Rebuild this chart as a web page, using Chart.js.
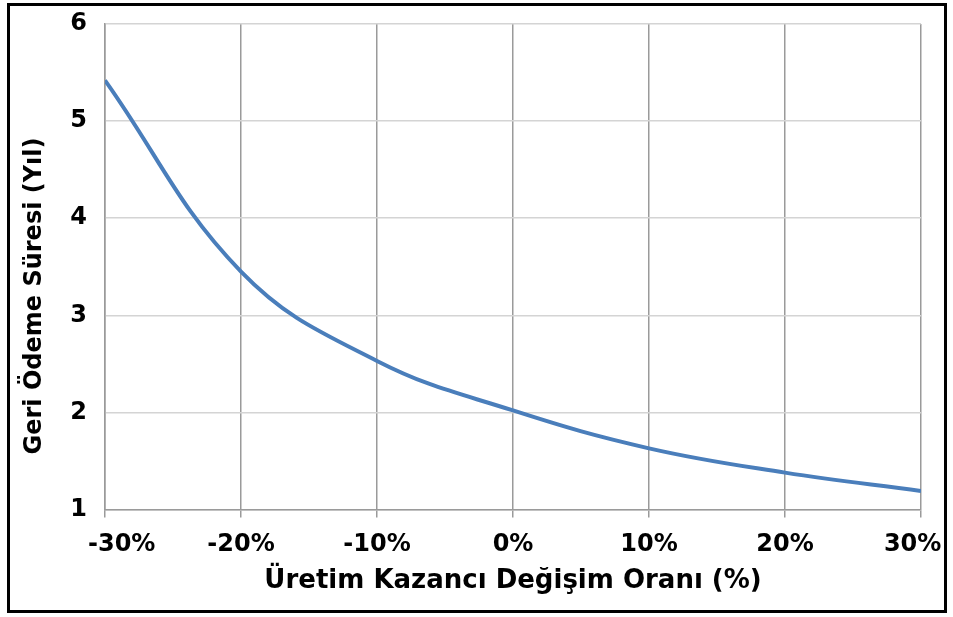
<!DOCTYPE html>
<html lang="tr">
<head>
  <meta charset="UTF-8">
  <title>Geri Ödeme Süresi</title>
  <script src="https://cdn.jsdelivr.net/npm/chart.js"></script>
  <style>
    body {
      margin: 0;
      background-color: white;
    }
    #frame {
      position: absolute;
      left: 7px;
      top: 3px;
      width: 940px;
      height: 610px;
      border: 3px solid black;
      box-sizing: border-box;
    }
    #wrap {
      position: absolute;
      left: 0;
      top: 0;
      width: 953px;
      height: 617px;
    }
  </style>
</head>
<body>
  <div id="frame"></div>
  <div id="wrap">
    <canvas id="paybackChart" width="953" height="617"></canvas>
  </div>
<script>
  // x: üretim kazancı değişimi (%), y: geri ödeme süresi (yıl)
  const changeRates = [-30, -20, -10, 0, 10, 20, 30];
  const paybackYears = [5.42, 3.45, 2.53, 2.02, 1.63, 1.38, 1.19];
  const yTicks = [1, 2, 3, 4, 5, 6];

  const points = changeRates.map((x, i) => ({ x: x, y: paybackYears[i] }));

  const tickFont = { family: "'DejaVu Sans', Arial, sans-serif", size: 24, weight: 'bold' };
  const xTitleFont = { family: "'DejaVu Sans', Arial, sans-serif", size: 26, weight: 'bold' };

  // end labels sit a bit inside the plot, like the original
  function xLabel(v) {
    if (v === -30) return '    ' + v + '%';
    if (v === 30) return v + '%  ';
    return v + '%';
  }

  const ctx = document.getElementById('paybackChart').getContext('2d');
  new Chart(ctx, {
    type: 'line',
    data: {
      datasets: [{
        data: points,
        borderColor: '#4a7ebb',
        borderWidth: 4,
        pointRadius: 0,
        tension: 0.4,
        fill: false
      }]
    },
    options: {
      responsive: false,
      animation: false,
      layout: {
        padding: { left: 0, top: 24, right: 32, bottom: 20 }
      },
      plugins: {
        legend: { display: false },
        tooltip: { enabled: false }
      },
      scales: {
        x: {
          type: 'linear',
          min: -30,
          max: 30,
          afterFit: function (scale) {
            scale.height = 617 - 20 - 509.5;
            scale.paddingLeft = 0;
            scale.paddingRight = 0;
          },
          ticks: {
            stepSize: 10,
            color: 'black',
            font: tickFont,
            padding: 13,
            callback: xLabel
          },
          grid: {
            color: '#9a9a9a',
            lineWidth: 1.5,
            tickLength: 8,
            tickColor: '#9a9a9a'
          },
          border: { color: '#9a9a9a', width: 1.5 },
          title: {
            display: true,
            text: 'Üretim Kazancı Değişim Oranı (%)',
            color: 'black',
            font: xTitleFont,
            padding: { top: 0, bottom: 0 }
          }
        },
        y: {
          min: 1,
          max: 6,
          afterFit: function (scale) {
            scale.width = 105;
            scale.paddingTop = 0;
            scale.paddingBottom = 0;
          },
          afterBuildTicks: function (scale) {
            scale.ticks = yTicks.map(v => ({ value: v }));
          },
          ticks: {
            color: 'black',
            font: tickFont,
            padding: 18
          },
          grid: {
            color: '#d4d4d4',
            lineWidth: 1.5,
            drawTicks: false
          },
          border: { color: '#9a9a9a', width: 1.5 },
          title: {
            display: true,
            // trailing spaces push the title a little lower, as in the original
            text: 'Geri Ödeme Süresi (Yıl)       ',
            color: 'black',
            font: tickFont,
            padding: { top: 20, bottom: 0 }
          }
        }
      }
    }
  });
</script>
</body>
</html>
